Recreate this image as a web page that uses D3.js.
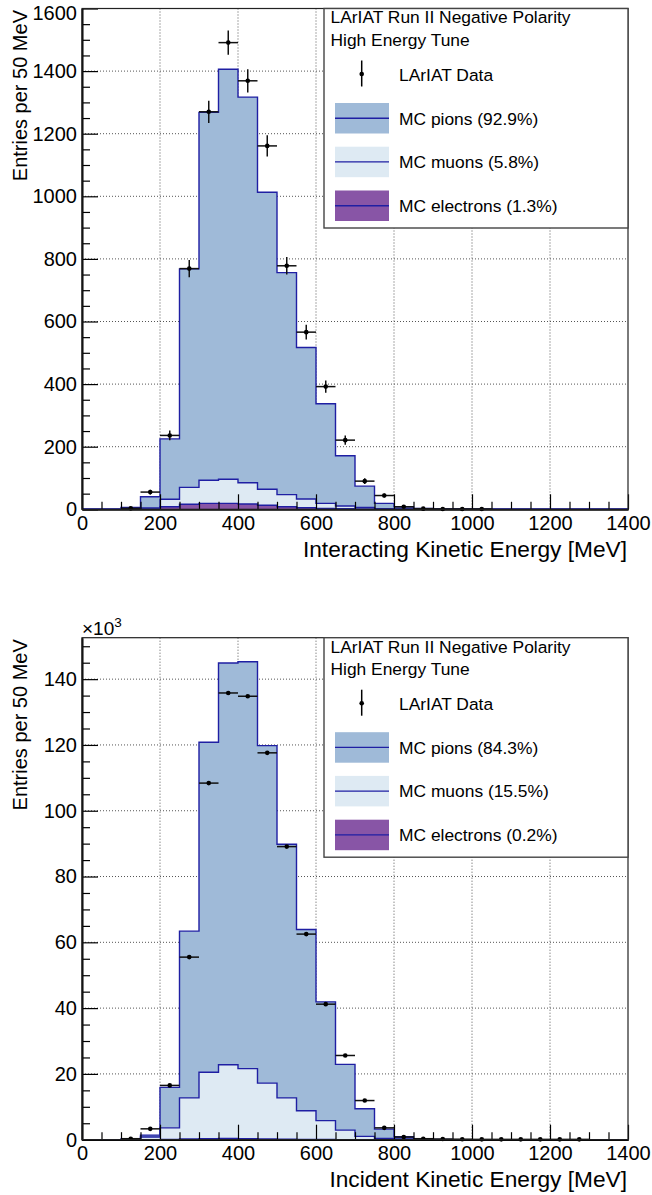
<!DOCTYPE html>
<html><head><meta charset="utf-8">
<script src="https://cdn.jsdelivr.net/npm/d3@7"></script>
<style>
html,body{margin:0;padding:0;background:#fff;}
svg{display:block;font-family:"Liberation Sans",Arial,Helvetica,sans-serif;}
</style></head><body>
<svg id="c" width="652" height="1195"></svg>
<script>
// ---------- data ----------
const binEdges = [0,50,100,150,200,250,300,350,400,450,500,550,600,650,700,750,800,850,900,950,1000,1050,1100,1150,1200,1250,1300,1350,1400];
const xTicks = [0,200,400,600,800,1000,1200,1400];

// Panel 1: Interacting kinetic energy (entries)
const intElectrons = [0,0,0,1,8,16,19,19,17,13,8,5,3,2,1,1,0,0,0,0,0,0,0,0,0,0,0,0];
const intMuons     = [0,0,1,3,24,54,74,77,68,51,39,28,16,8.5,5,1,1,0,0,0,0,0,0,0,0,0,0,0];
const intPions     = [0,0,5,36,193,698,1175,1310,1232,949,709,484,318,160.5,68,17,7,3,1,1,0,0,0,0,0,0,0,0];
const intData      = [0,0,3,55,236,769,1270,1491,1369,1161,778,566,392,221,90,44,8,2,1,1,1,0,0,0,0,0,0,0];
const intDataErr   = [0,0,1.7,7.4,15.4,27.7,35.6,38.6,37,34.1,27.9,23.8,19.8,14.9,9.5,6.6,2.8,1.4,1,1,1,0,0,0,0,0,0,0];
const intYTicks = [0,200,400,600,800,1000,1200,1400,1600];

// Panel 2: Incident kinetic energy (entries x 10^3)
const incElectrons = [0,0,0,0,0.05,0.2,0.3,0.35,0.3,0.25,0.15,0.1,0.05,0,0,0,0,0,0,0,0,0,0,0,0,0,0,0];
const incMuons     = [0,0,0.1,0.8,3.55,12.5,20.2,22.45,21.3,16.95,12.55,8.7,5.75,2.9,1.0,0.4,0.2,0.1,0,0,0,0,0,0,0,0,0,0];
const incPions     = [0,0,0.1,0.6,12.3,50.7,100.3,122.1,123.7,102.6,77.1,55.1,36.1,20.0,8.4,2.8,0.7,0.2,0.1,0,0,0,0,0,0,0,0,0];
const incData      = [0,0,0.3,3.3,16.5,55.5,108.4,135.8,134.8,117.6,89.1,62.5,41.2,25.6,11.9,3.6,0.8,0.3,0.2,0.15,0.1,0.1,0.1,0.1,0.1,0.1,0,0];
const incDataErr   = [0,0,0.017,0.057,0.128,0.236,0.329,0.369,0.367,0.343,0.298,0.25,0.203,0.16,0.109,0.06,0.028,0.017,0.014,0.012,0.01,0.01,0.01,0.01,0.01,0.01,0,0];
const incYTicks = [0,20,40,60,80,100,120,140];

const legendHeader = ["LArIAT Run II Negative Polarity","High Energy Tune"];
const legendData = "LArIAT Data";
const intLegend = ["MC pions (92.9%)","MC muons (5.8%)","MC electrons (1.3%)"];
const incLegend = ["MC pions (84.3%)","MC muons (15.5%)","MC electrons (0.2%)"];

// ---------- style ----------
const colPion = "#9fbad8", colMuon = "#deeaf3", colElec = "#8855a6", colLine = "#1f1fa3";
const svg = d3.select("#c");
const X0 = 82, X1 = 628;

function drawPanel(cfg){
  const g = svg.append("g");
  const x = d3.scaleLinear().domain([0,1400]).range([X0,X1]);
  const y = d3.scaleLinear().domain([0,cfg.yMax]).range([cfg.yBottom,cfg.yTop]);

  // grid
  const gx = xTicks.filter(d=>d>0 && d<1400);
  const gy = cfg.yTicks.filter(d=>d>0 && y(d)>cfg.yTop+2);
  g.append("g").selectAll("line").data(gx).join("line")
    .attr("x1",d=>x(d)).attr("x2",d=>x(d)).attr("y1",cfg.yTop).attr("y2",cfg.yBottom)
    .attr("stroke","#555").attr("stroke-width",1).attr("stroke-dasharray","1,2");
  g.append("g").selectAll("line").data(gy).join("line")
    .attr("y1",d=>y(d)).attr("y2",d=>y(d)).attr("x1",X0).attr("x2",X1)
    .attr("stroke","#555").attr("stroke-width",1).attr("stroke-dasharray","1,2");

  // stack
  const rows = cfg.elec.map((e,i)=>({electrons:e, muons:cfg.mu[i], pions:cfg.pi[i]}));
  const series = d3.stack().keys(["electrons","muons","pions"])(rows);
  const fills = {electrons:colElec, muons:colMuon, pions:colPion};
  series.slice().reverse().forEach(layer=>{
    const pts = [];
    layer.forEach((d,i)=>{
      pts.push({x:binEdges[i],lo:d[0],hi:d[1]});
      pts.push({x:binEdges[i+1],lo:d[0],hi:d[1]});
    });
    const area = d3.area().x(p=>x(p.x)).y0(p=>y(p.lo)).y1(p=>y(p.hi));
    const line = d3.line().x(p=>x(p.x)).y(p=>y(p.hi));
    g.append("path").attr("d",area(pts)).attr("fill",fills[layer.key]).attr("stroke","none");
    g.append("path").attr("d",line(pts)).attr("fill","none").attr("stroke",colLine).attr("stroke-width",1.4);
  });

  // data points
  const dg = g.append("g");
  cfg.data.forEach((v,i)=>{
    if(v<=0) return;
    const xc = (binEdges[i]+binEdges[i+1])/2;
    const e = cfg.err[i];
    dg.append("line").attr("x1",x(binEdges[i])).attr("x2",x(binEdges[i+1]))
      .attr("y1",y(v)).attr("y2",y(v)).attr("stroke","#111").attr("stroke-width",1.5);
    dg.append("line").attr("x1",x(xc)).attr("x2",x(xc))
      .attr("y1",Math.min(cfg.yBottom,y(v-e))).attr("y2",y(v+e)).attr("stroke","#111").attr("stroke-width",1.5);
    dg.append("circle").attr("cx",x(xc)).attr("cy",y(v)).attr("r",2.3).attr("fill","#000");
  });

  // axes
  const xMinor = binEdges.filter(d=>d%200!==0);
  const yMinor = d3.range(0,cfg.yMax+1e-9,cfg.minorStep).filter(d=>!cfg.yTicks.includes(+d.toFixed(6)));
  const axX = g.append("g").attr("transform",`translate(0,${cfg.yBottom})`)
    .call(d3.axisBottom(x).tickValues(xTicks).tickSizeInner(-15).tickSizeOuter(0).tickPadding(6.5).tickFormat(d3.format("d")));
  const axXm = g.append("g").attr("transform",`translate(0,${cfg.yBottom})`)
    .call(d3.axisBottom(x).tickValues(xMinor).tickSizeInner(-7.5).tickSizeOuter(0).tickFormat(""));
  const axY = g.append("g").attr("transform",`translate(${X0},0)`)
    .call(d3.axisLeft(y).tickValues(cfg.yTicks).tickSizeInner(-16).tickSizeOuter(0).tickPadding(5).tickFormat(d3.format("d")));
  const axYm = g.append("g").attr("transform",`translate(${X0},0)`)
    .call(d3.axisLeft(y).tickValues(yMinor).tickSizeInner(-8).tickSizeOuter(0).tickFormat(""));
  [axX,axXm,axY,axYm].forEach(a=>{
    a.selectAll(".domain").attr("stroke","#000").attr("stroke-width",1.6);
    a.selectAll(".tick line").attr("stroke","#000").attr("stroke-width",1.2);
    a.selectAll("text").attr("font-size",20).attr("fill","#000").attr("font-family","Liberation Sans, Arial, sans-serif");
  });
  // clamp top y-label
  axY.selectAll(".tick text").filter(d=>y(d)<cfg.yTop+4).attr("dy","0.55em");

  // frame
  g.append("rect").attr("x",X0).attr("y",cfg.yTop).attr("width",X1-X0).attr("height",cfg.yBottom-cfg.yTop)
    .attr("fill","none").attr("stroke","#222").attr("stroke-width",1.2);

  // titles
  g.append("text").attr("x",X1-1).attr("y",cfg.yBottom+47.2).attr("text-anchor","end")
    .attr("font-size",22.7).text(cfg.xTitle);
  g.append("text").attr("transform",`translate(27,${cfg.yTop+1.5}) rotate(-90)`).attr("text-anchor","end")
    .attr("font-size",20).text("Entries per 50 MeV");
  if(cfg.exponent){
    const t = g.append("text").attr("x",X0).attr("y",cfg.yTop-3).attr("font-size",19);
    t.append("tspan").text("\u00d710");
    t.append("tspan").attr("dy",-8).attr("font-size",13.5).text("3");
  }

  // legend
  const T = cfg.yTop;
  const L = g.append("g");
  L.append("rect").attr("x",324).attr("y",T).attr("width",X1-324).attr("height",219.5)
    .attr("fill","#fff").attr("stroke","#444").attr("stroke-width",1.4);
  const fs = 17.4;
  L.append("text").attr("x",330.5).attr("y",T+14.8).attr("font-size",fs).text(legendHeader[0]);
  L.append("text").attr("x",330.5).attr("y",T+37.4).attr("font-size",fs).text(legendHeader[1]);
  L.append("line").attr("x1",361.7).attr("x2",361.7).attr("y1",T+52).attr("y2",T+78).attr("stroke","#000").attr("stroke-width",1.5);
  L.append("circle").attr("cx",361.7).attr("cy",T+65.5).attr("r",2.3).attr("fill","#000");
  L.append("text").attr("x",399).attr("y",T+72.5).attr("font-size",fs).text(legendData);
  const sw = [{c:colPion,t:cfg.legend[0],y:94.5,by:116.2},{c:colMuon,t:cfg.legend[1],y:138.2,by:159.7},{c:colElec,t:cfg.legend[2],y:182,by:203}];
  sw.forEach(s=>{
    L.append("rect").attr("x",335).attr("y",T+s.y).attr("width",54).attr("height",30.5).attr("fill",s.c);
    L.append("line").attr("x1",335).attr("x2",389).attr("y1",T+s.y+15.2).attr("y2",T+s.y+15.2)
      .attr("stroke",colLine).attr("stroke-width",1.4);
    L.append("text").attr("x",399).attr("y",T+s.by).attr("font-size",fs).text(s.t);
  });
}

drawPanel({yTop:8.5,yBottom:509.3,yMax:1600,yTicks:intYTicks,minorStep:50,
  elec:intElectrons,mu:intMuons,pi:intPions,data:intData,err:intDataErr,
  xTitle:"Interacting Kinetic Energy [MeV]",legend:intLegend,exponent:false});
drawPanel({yTop:637.7,yBottom:1139.7,yMax:152.6,yTicks:incYTicks,minorStep:5,
  elec:incElectrons,mu:incMuons,pi:incPions,data:incData,err:incDataErr,
  xTitle:"Incident Kinetic Energy [MeV]",legend:incLegend,exponent:true});
</script>
</body></html>
